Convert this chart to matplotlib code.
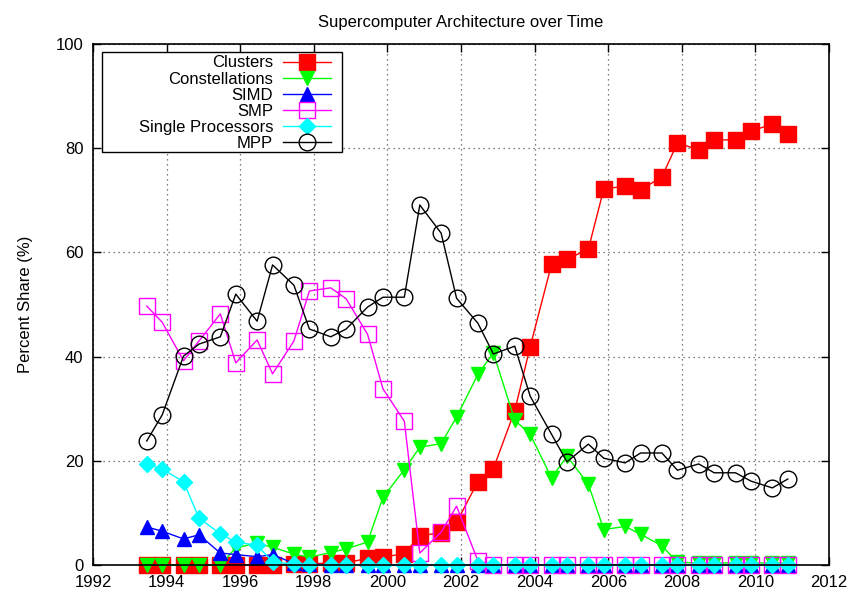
import matplotlib
matplotlib.use("Agg")
import matplotlib.pyplot as plt
from matplotlib.patches import Rectangle

plt.rcParams['font.family'] = ['Liberation Sans', 'DejaVu Sans']

# TOP500 lists: June and November of each year
years = [1993.46, 1993.88, 1994.46, 1994.88, 1995.46, 1995.88, 1996.46, 1996.88,
         1997.46, 1997.88, 1998.46, 1998.88, 1999.46, 1999.88, 2000.46, 2000.88,
         2001.46, 2001.88, 2002.46, 2002.88, 2003.46, 2003.88, 2004.46, 2004.88,
         2005.46, 2005.88, 2006.46, 2006.88, 2007.46, 2007.88, 2008.46, 2008.88,
         2009.46, 2009.88, 2010.46, 2010.88]

clusters = [0, 0, 0, 0, 0, 0, 0, 0, 0.2, 0.2, 0.4, 0.4, 1.3, 1.5, 2.2, 5.6,
            6.2, 8.2, 16.0, 18.5, 29.6, 41.9, 57.7, 58.7, 60.6, 72.2, 72.7, 72.0,
            74.5, 81.0, 79.7, 81.6, 81.6, 83.3, 84.6, 82.7]
constellations = [0, 0, 0, 0, 0, 3.3, 4.2, 3.4, 2.1, 1.5, 2.4, 3.1, 4.4, 13.0,
                  18.3, 22.6, 23.3, 28.4, 36.6, 40.7, 27.8, 25.1, 16.7, 20.9,
                  15.5, 6.8, 7.4, 5.9, 3.7, 0.5, 0.4, 0.4, 0.4, 0.4, 0.4, 0.4]
simd = [7.3, 6.5, 5.0, 5.8, 2.3, 2.0, 1.6, 2.0, 0.3, 0.2, 0, 0, 0, 0, 0, 0,
        0, 0, 0, 0, 0, 0, 0, 0, 0, 0, 0, 0, 0, 0, 0, 0, 0, 0, 0, 0]
smp = [49.7, 46.6, 39.2, 43.0, 48.2, 38.8, 43.2, 36.7, 43.0, 52.6, 53.2, 51.1,
       44.3, 33.8, 27.6, 2.3, 6.3, 11.3, 0.8, 0, 0, 0, 0, 0, 0, 0, 0, 0,
       0, 0, 0, 0, 0, 0, 0, 0]
single = [19.4, 18.4, 16.0, 9.0, 6.0, 4.4, 3.8, 0.6, 0.2, 0, 0, 0, 0, 0, 0, 0,
          0, 0, 0, 0, 0, 0, 0, 0, 0, 0, 0, 0, 0, 0, 0, 0, 0, 0, 0, 0]
mpp = [23.8, 28.8, 40.1, 42.4, 43.8, 52.0, 46.8, 57.6, 53.7, 45.3, 43.8, 45.3,
       49.5, 51.4, 51.4, 69.1, 63.7, 51.2, 46.4, 40.5, 42.0, 32.4, 25.1, 19.8,
       23.2, 20.5, 19.6, 21.5, 21.5, 18.2, 19.4, 17.7, 17.7, 16.1, 14.8, 16.5]

fig = plt.figure(figsize=(8.5, 5.93), dpi=100)
ax = fig.add_axes([0.1094, 0.0472, 0.8659, 0.8786])

ax.plot(years, clusters, color='#ff0000', lw=1, marker='s', ms=11.5,
        mec='#ff0000', mfc='#ff0000', clip_on=False, label='Clusters')
ax.plot(years, constellations, color='#00ff00', lw=1, marker='v', ms=10,
        mec='#00ff00', mfc='#00ff00', clip_on=False, label='Constellations')
ax.plot(years, simd, color='#0000ff', lw=1, marker='^', ms=10,
        mec='#0000ff', mfc='#0000ff', clip_on=False, label='SIMD')
ax.plot(years, smp, color='#ff00ff', lw=1, marker='s', ms=11.5,
        mec='#ff00ff', mfc='none', mew=1, clip_on=False, label='SMP')
ax.plot(years, single, color='#00ffff', lw=1, marker='D', ms=8.5,
        mec='#00ffff', mfc='#00ffff', clip_on=False, label='Single Processors')
ax.plot(years, mpp, color='black', lw=1, marker='o', ms=12,
        mec='black', mfc='none', mew=1, clip_on=False, label='MPP')

ax.set_xlim(1992, 2012)
ax.set_ylim(0, 100)
ax.set_xticks(range(1992, 2013, 2))
ax.set_yticks(range(0, 101, 20))
ax.tick_params(direction='in', top=True, right=True, length=6, width=1,
               labelsize=12, pad=7)
ax.grid(True, color='#555555', linestyle=(0, (1, 3)), lw=0.9)
for s in ax.spines.values():
    s.set_linewidth(1.2)

ax.set_title('Supercomputer Architecture over Time', fontsize=12, pad=12)
ax.set_ylabel('Percent Share (%)', fontsize=12, labelpad=16)

# gnuplot-style key: wide box, labels right-aligned before the sample
box = Rectangle((0.0122, 0.7927), 0.3261, 0.1919, transform=ax.transAxes,
                facecolor='white', edgecolor='black', lw=1, zorder=4.9)
ax.add_patch(box)
leg = ax.legend(loc='upper right', bbox_to_anchor=(0.3234, 0.978),
                borderaxespad=0, borderpad=0, markerfirst=False, numpoints=1,
                fontsize=12, handlelength=2.87, labelspacing=0.07,
                handletextpad=0.6, frameon=False)
leg.set_zorder(5)

fig.savefig('out.png', dpi=100)
